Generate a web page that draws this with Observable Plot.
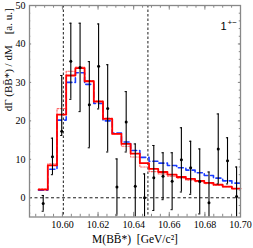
<!DOCTYPE html>
<html><head><meta charset="utf-8">
<script src="https://cdn.jsdelivr.net/npm/d3@7"></script>
<script src="https://cdn.jsdelivr.net/npm/@observablehq/plot@0.6"></script>
<style>body{margin:0;background:#fff}</style>
</head><body><div id="chart"></div>
<script>
// histogram bins (22 bins, edges start at binEdge0, width binW)
const binEdge0 = 10.5866, binW = 0.00517;
const redVals    = [2.1, 8.4, 21.6, 31.8, 33.7, 30.3, 25.0, 20.5, 16.6, 14.0, 11.5, 9.0, 7.5, 6.7, 6.0, 5.4, 4.9, 4.4, 3.9, 3.4, 2.9, 2.4];
const redDotVals = [2.3, 8.8, 23.2, 32.9, 34.0, 30.5, 25.2, 20.7, 16.6, 13.4, 10.6, 8.0, 6.8, 6.2, 5.6, 5.1, 4.6, 4.2, 3.7, 3.2, 2.8, 2.4];
const blueVals   = [2.0, 7.4, 20.2, 30.0, 32.5, 29.5, 24.5, 20.0, 16.8, 14.5, 12.3, 10.5, 9.5, 9.0, 8.4, 7.8, 7.2, 6.5, 5.8, 5.1, 4.4, 3.8];
// data points: centre, value, lower and upper end of the error bar
const ptX  = [10.5892, 10.5944, 10.5996, 10.6047, 10.6099, 10.6151, 10.6203, 10.6254, 10.6306, 10.6358, 10.6409, 10.6461, 10.6513, 10.6565, 10.6616, 10.6668, 10.6720, 10.6771, 10.6823, 10.6875, 10.6927, 10.6978];
const ptY  = [-1.5, 10.7, 17.3, 35.5, 33.9, 24.2, 34.2, 23.2, 2.8, 19.7, 3.0, 0.0, 5.2, 5.6, 4.3, 9.9, 7.8, 4.2, -1.3, 12.7, 9.6, 0.3];
const ptLo = [-3.5, 6.0, 16.2, 25.6, 22.4, 13.0, 23.1, 11.9, -4.5, 11.9, -8.0, -6.2, -3.3, -0.5, -3.1, 1.5, 0.9, -4.2, -9.3, 3.6, 3.6, -7.4];
const ptHi = [0.6, 15.5, 31.8, 45.4, 45.4, 35.4, 45.2, 34.6, 10.1, 27.6, 14.0, 6.2, 13.6, 11.7, 11.7, 18.2, 14.7, 12.7, 6.7, 21.8, 15.6, 8.0];
const vLines = [10.6005, 10.648];
const xTicks = [10.60, 10.62, 10.64, 10.66, 10.68, 10.70];
const yTicks = [0, 10, 20, 30, 40, 50];

function steps(vals){
  const out=[];
  vals.forEach((v,i)=>{const a=binEdge0+i*binW; out.push({x:a,y:v},{x:Math.min(a+binW,10.70),y:v});});
  return out;
}
const X0 = 10.5815, X1 = 10.70, Y0 = -5, Y1 = 50;
const xMinor = d3.range(10.585, 10.7001, 0.005);
const yMinor = d3.range(-4, 50.01, 2);
const pts = ptX.map((x,i)=>({x, y:ptY[i], lo:ptLo[i], hi:ptHi[i]}));
const frame = "#888";
const tl = 0.0012, tlm = 0.0007, ty = 1.2, tym = 0.7;
const cap = 0.0006;

const chart = Plot.plot({
  width: 253, height: 248,
  marginLeft: 29, marginRight: 13, marginTop: 5, marginBottom: 31.5,
  style: {fontFamily: "'Liberation Serif', 'DejaVu Serif', serif", fontSize: "10px", background: "#fff"},
  x: {domain: [X0, X1], ticks: xTicks, tickFormat: d3.format(".2f"), tickSize: 0, tickPadding: 4, label: null},
  y: {domain: [Y0, Y1], ticks: yTicks, tickSize: 0, tickPadding: 4, label: null},
  marks: [
    Plot.ruleY([0], {stroke: "#000", strokeDasharray: "3,2.5", strokeWidth: 0.9}),
    Plot.ruleX(vLines, {stroke: "#000", strokeDasharray: "2.5,2", strokeWidth: 0.9}),
    Plot.line(steps(blueVals), {x: "x", y: "y", stroke: "#1a3cff", strokeWidth: 1.6, strokeDasharray: "5,3"}),
    Plot.line(steps(redDotVals), {x: "x", y: "y", stroke: "#ff6a6a", strokeWidth: 1.2, strokeDasharray: "1.5,1.5"}),
    Plot.line(steps(redVals), {x: "x", y: "y", stroke: "#ff0000", strokeWidth: 1.8}),
    Plot.ruleX(pts, {x: "x", y1: d=>Math.max(d.lo, Y0), y2: "hi", stroke: "#000", strokeWidth: 1.1}),
    Plot.ruleY(pts.filter(d=>d.lo>Y0), {x1: d=>d.x-cap, x2: d=>d.x+cap, y: "lo", stroke:"#000"}),
    Plot.ruleY(pts, {x1: d=>d.x-cap, x2: d=>d.x+cap, y: "hi", stroke:"#000"}),
    Plot.dot(pts, {x: "x", y: "y", r: 1.5, fill: "#000"}),
    Plot.ruleX(xTicks, {x: d=>d, y1: Y0, y2: Y0 + ty, stroke: frame}),
    Plot.ruleX(xTicks, {x: d=>d, y1: Y1, y2: Y1 - ty, stroke: frame}),
    Plot.ruleX(xMinor, {x: d=>d, y1: Y0, y2: Y0 + tym, stroke: frame}),
    Plot.ruleX(xMinor, {x: d=>d, y1: Y1, y2: Y1 - tym, stroke: frame}),
    Plot.ruleY(yTicks, {y: d=>d, x1: X0, x2: X0 + tl, stroke: frame}),
    Plot.ruleY(yTicks, {y: d=>d, x1: X1, x2: X1 - tl, stroke: frame}),
    Plot.ruleY(yMinor, {y: d=>d, x1: X0, x2: X0 + tlm, stroke: frame}),
    Plot.ruleY(yMinor, {y: d=>d, x1: X1, x2: X1 - tlm, stroke: frame}),
    Plot.frame({stroke: frame, strokeWidth: 1.3}),
    Plot.text(["1"], {frameAnchor: "top-right", dx: -20, dy: 17, fontSize: 11, fontFamily: "Liberation Sans, sans-serif", textAnchor: "start"}),
    Plot.text(["+−"], {frameAnchor: "top-right", dx: -13, dy: 14, fontSize: 8, fontFamily: "Liberation Sans, sans-serif", textAnchor: "start"}),
    Plot.text(["M(BB̄*)  [GeV/c²]"], {frameAnchor: "bottom", dy: 26, fontSize: 11.5}),
    Plot.text(["dΓ (BB̄*) / dM    [a. u.]"], {frameAnchor: "left", dx: -21, rotate: -90, fontSize: 11})
  ]
});
document.getElementById("chart").appendChild(chart);
</script></body></html>
